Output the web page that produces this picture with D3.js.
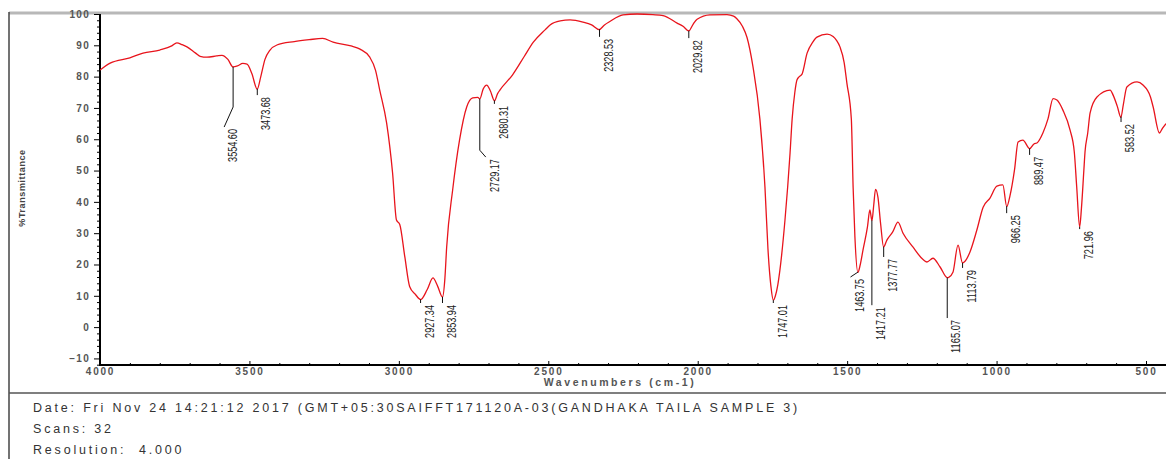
<!DOCTYPE html>
<html>
<head>
<meta charset="utf-8">
<script src="https://cdn.jsdelivr.net/npm/d3@7"></script>
<style>
    body { margin: 0; background: #ffffff; }
    svg { display: block; font-family: "Liberation Sans", Arial, sans-serif; }
</style>
</head>
<body>
<div id="vis"></div>
<script>
// spectrum: wavenumber (cm-1) and %T
const WAVENUMBERS = [4000, 3966, 3900, 3856, 3800, 3760, 3743, 3725, 3709, 3680, 3665, 3642, 3610, 3592, 3572,
    3555, 3540, 3522, 3508, 3492, 3474, 3462, 3448, 3431, 3408, 3350, 3300, 3255, 3220, 3160, 3130, 3098, 3078,
    3064, 3041, 3021, 3008, 2997, 2980, 2964, 2945, 2927, 2905, 2886, 2870, 2854, 2846, 2840, 2820, 2797, 2773,
    2753, 2736, 2729, 2718, 2706, 2694, 2680, 2670, 2662, 2620, 2580, 2550, 2510, 2494, 2460, 2427, 2384, 2355,
    2330, 2312, 2294, 2250, 2203, 2150, 2116, 2069, 2048, 2030, 2015, 2002, 1959, 1902, 1880, 1869, 1850, 1835,
    1815, 1792, 1775, 1765, 1755, 1747, 1740, 1732, 1725, 1708, 1691, 1684, 1675, 1668, 1660, 1651, 1634, 1615,
    1601, 1567, 1547, 1535, 1524, 1510, 1501, 1486, 1480, 1474, 1464, 1456, 1447, 1432, 1424, 1417, 1411, 1405,
    1397, 1388, 1378, 1367, 1347, 1330, 1313, 1280, 1245, 1233, 1213, 1189, 1165, 1160, 1146, 1129, 1114, 1100,
    1089, 1066, 1045, 1022, 999, 979, 966, 955, 940, 928, 912, 889, 875, 865, 845, 828, 811, 798, 778, 754, 740,
    732, 722, 716, 708, 704, 695, 687, 664, 620, 610, 596, 584, 576, 564, 530, 510, 485, 476, 455, 445, 433];
const TRANSMITTANCE = [82.1, 84.3, 86.0, 87.5, 88.5, 89.8, 90.8, 90.2, 89.5, 87.5, 86.5, 86.2, 86.6, 86.8, 85.5,
    83.1, 83.4, 84.2, 84.0, 81.0, 76.0, 80.0, 85.5, 88.5, 90.1, 91.2, 91.8, 92.2, 91.0, 89.8, 88.8, 86.3, 82.0,
    75.7, 65.2, 49.2, 34.2, 32.8, 22.4, 13.0, 10.5, 8.8, 12.0, 15.7, 13.0, 9.6, 15.5, 25.6, 43.8, 59.7, 70.3,
    73.2, 73.4, 72.9, 76.0, 77.3, 75.5, 72.3, 74.5, 75.7, 80.5, 86.5, 91.0, 95.0, 96.5, 97.8, 98.1, 97.4, 96.5,
    95.0, 96.5, 97.6, 99.7, 100.0, 99.8, 99.5, 97.1, 96.0, 94.6, 96.8, 98.3, 99.7, 99.8, 99.3, 98.5, 96.0, 92.5,
    83.1, 66.5, 44.7, 25.0, 13.0, 8.6, 10.0, 13.5, 18.2, 34.2, 55.6, 66.5, 75.0, 78.9, 80.0, 80.8, 87.5, 91.0,
    92.6, 93.6, 92.8, 91.5, 89.5, 84.5, 78.0, 66.5, 44.7, 28.8, 17.5, 20.0, 24.6, 32.0, 37.4, 34.0, 39.0, 44.0,
    41.5, 33.0, 25.6, 27.8, 30.5, 33.5, 30.0, 25.6, 21.5, 20.8, 22.0, 19.2, 15.8, 15.9, 17.5, 26.2, 20.5, 21.8,
    24.0, 31.0, 38.3, 41.2, 45.0, 45.4, 38.5, 42.0, 50.2, 59.1, 59.7, 57.0, 58.5, 58.8, 62.0, 66.5, 73.0, 72.5,
    69.3, 62.9, 56.0, 45.0, 32.0, 38.0, 50.0, 56.0, 62.0, 68.4, 73.5, 75.7, 74.1, 70.5, 67.0, 71.0, 76.7, 78.3,
    77.3, 73.5, 70.3, 62.0, 63.5, 65.0];

// peak picks: label, where the marker line stops (%T), optional knee (%T) and shift of the line end (cm-1)
const PEAK_LABELS = ["3554.60", "3473.68", "2927.34", "2853.94", "2729.17", "2680.31", "2328.53", "2029.82",
    "1747.01", "1463.75", "1417.21", "1377.77", "1165.07", "1113.79", "966.25", "889.47", "721.96", "583.52"];
const PEAK_END = [63.9, 74.1, 7.7, 7.7, 54.3, 71.3, 92.7, 92.3, 7.7, 16.0, 7.0, 22.4, 2.9, 18.9, 36.4, 55.0, 31.3, 65.5];
const PEAK_KNEE = [70.3, null, null, null, 56.5, null, null, null, null, null, null, null, null, null, null, null, null, null];
const PEAK_SHIFT = [30, 0, 0, 0, -20, 0, 0, 0, 0, 25, 0, 0, 0, 0, 0, 0, 0, 0];

const X_TICKS = [4000, 3500, 3000, 2500, 2000, 1500, 1000, 500];
const Y_TICKS = [-10, 0, 10, 20, 30, 40, 50, 60, 70, 80, 90, 100];

const X_TITLE = "Wavenumbers (cm-1)";
const Y_TITLE = "%Transmittance";
const FOOTER = ["Date: Fri Nov 24 14:21:12 2017 (GMT+05:30SAIFFT171120A-03(GANDHAKA TAILA SAMPLE 3)",
    "Scans: 32",
    "Resolution:  4.000"];

// Constants
const FRAME_WIDTH = 1166;
const FRAME_HEIGHT = 459;
const PLOT = { left: 100, right: 1166, top: 14, bottom: 365 };

const FRAME = d3.select("#vis")
    .append("svg")
    .attr("width", FRAME_WIDTH)
    .attr("height", FRAME_HEIGHT);

const X_SCALE = d3.scaleLinear()
    .domain([4000, 500])
    .range([PLOT.left, 1146]);

const Y_SCALE = d3.scaleLinear()
    .domain([-12.1, 100])
    .range([PLOT.bottom, PLOT.top]);

// outer frame lines
FRAME.append("line")
    .attr("x1", 9).attr("x2", FRAME_WIDTH)
    .attr("y1", 13).attr("y2", 13)
    .attr("stroke", "#b8b8b8").attr("stroke-width", 3);
FRAME.append("line")
    .attr("x1", 9).attr("x2", 9)
    .attr("y1", 12).attr("y2", FRAME_HEIGHT)
    .attr("stroke", "#444").attr("stroke-width", 1.5);
FRAME.append("line")
    .attr("x1", 9).attr("x2", FRAME_WIDTH)
    .attr("y1", 393).attr("y2", 393)
    .attr("stroke", "#555").attr("stroke-width", 1.5);

// y axis, minor ticks first
FRAME.append("g")
    .attr("transform", "translate(" + PLOT.left + ",0)")
    .call(d3.axisLeft(Y_SCALE)
        .tickValues(d3.range(-12, 101, 2).filter((d) => { return d % 10 != 0; }))
        .tickSize(3).tickFormat(""))
    .call((g) => { g.select(".domain").remove(); });

const Y_AXIS = FRAME.append("g")
    .attr("transform", "translate(" + PLOT.left + ",0)")
    .call(d3.axisLeft(Y_SCALE).tickValues(Y_TICKS).tickSize(6).tickPadding(4));
Y_AXIS.select(".domain").remove();
Y_AXIS.selectAll("text")
    .attr("font-size", "10px").attr("font-weight", "bold")
    .attr("letter-spacing", "1.3px").attr("fill", "#555");

// x axis
FRAME.append("g")
    .attr("transform", "translate(0," + PLOT.bottom + ")")
    .call(d3.axisBottom(X_SCALE)
        .tickValues(d3.range(4000, 400, -100).filter((d) => { return d % 500 != 0; }))
        .tickSize(-2).tickFormat(""))
    .call((g) => { g.select(".domain").remove(); });

const X_AXIS = FRAME.append("g")
    .attr("transform", "translate(0," + PLOT.bottom + ")")
    .call(d3.axisBottom(X_SCALE).tickValues(X_TICKS).tickFormat(d3.format("d"))
        .tickSize(-4).tickPadding(3));
X_AXIS.select(".domain").remove();
X_AXIS.selectAll("text")
    .attr("font-size", "10px").attr("font-weight", "bold")
    .attr("letter-spacing", "1.8px").attr("fill", "#555");

// axis lines
FRAME.append("line")
    .attr("x1", PLOT.left).attr("x2", PLOT.left)
    .attr("y1", PLOT.top).attr("y2", PLOT.bottom + 1)
    .attr("stroke", "#000").attr("stroke-width", 2);
FRAME.append("line")
    .attr("x1", PLOT.left - 1).attr("x2", PLOT.right)
    .attr("y1", PLOT.bottom).attr("y2", PLOT.bottom)
    .attr("stroke", "#000").attr("stroke-width", 2);

// axis titles
FRAME.append("text")
    .attr("x", 620).attr("y", 386)
    .attr("text-anchor", "middle")
    .attr("font-size", "10.5px").attr("font-weight", "bold")
    .attr("letter-spacing", "2.6px").attr("fill", "#555")
    .text(X_TITLE);
FRAME.append("text")
    .attr("transform", "translate(25,188) rotate(-90)")
    .attr("text-anchor", "middle")
    .attr("font-size", "9px").attr("font-weight", "bold")
    .attr("letter-spacing", "0.6px").attr("fill", "#444")
    .text(Y_TITLE);

// spectrum
const spectrum = WAVENUMBERS.map((d, i) => { return { wn: d, t: TRANSMITTANCE[i] }; });

FRAME.append("clipPath").attr("id", "plot-clip")
    .append("rect")
    .attr("x", PLOT.left).attr("y", PLOT.top - 2)
    .attr("width", PLOT.right - PLOT.left).attr("height", PLOT.bottom - PLOT.top + 2);

FRAME.append("path")
    .datum(spectrum)
    .attr("clip-path", "url(#plot-clip)")
    .attr("fill", "none")
    .attr("stroke", "#e8141c")
    .attr("stroke-width", 1.3)
    .attr("d", d3.line()
        .x((d) => { return X_SCALE(d.wn); })
        .y((d) => { return Y_SCALE(d.t); })
        .curve(d3.curveMonotoneX));

// %T on the curve at a wavenumber
function curveAt(wn) {
    const i = d3.bisector((d) => { return -d.wn; }).left(spectrum, -wn);
    if (i <= 0) return spectrum[0].t;
    const a = spectrum[i - 1], b = spectrum[i];
    return a.t + (b.t - a.t) * (a.wn - wn) / (a.wn - b.wn);
}

// peak markers and labels
const peaks = PEAK_LABELS.map((d, i) => {
    return { label: d, wn: +d, end: PEAK_END[i], knee: PEAK_KNEE[i], shift: PEAK_SHIFT[i] };
});

FRAME.selectAll(".peak-line")
    .data(peaks)
    .enter()
    .append("path")
    .attr("class", "peak-line")
    .attr("fill", "none")
    .attr("stroke", "#111")
    .attr("stroke-width", 1)
    .attr("d", (d) => {
        const x = X_SCALE(d.wn);
        let p = "M" + x + "," + Y_SCALE(curveAt(d.wn));
        if (d.knee != null) p += "L" + x + "," + Y_SCALE(d.knee);
        return p + "L" + X_SCALE(d.wn + d.shift) + "," + Y_SCALE(d.end);
    });

FRAME.selectAll(".peak-label")
    .data(peaks)
    .enter()
    .append("text")
    .attr("class", "peak-label")
    .attr("transform", (d) => {
        return "translate(" + (X_SCALE(d.wn + d.shift) + 9) + "," + (Y_SCALE(d.end) + 2) + ") rotate(-90)";
    })
    .attr("dy", "0.35em")
    .attr("text-anchor", "end")
    .attr("font-size", "12px")
    .attr("fill", "#222")
    .attr("textLength", (d) => { return d.label.length * 4.7; })
    .attr("lengthAdjust", "spacingAndGlyphs")
    .text((d) => { return d.label; });

// footer
FRAME.selectAll(".footer")
    .data(FOOTER)
    .enter()
    .append("text")
    .attr("class", "footer")
    .attr("x", 33)
    .attr("y", (d, i) => { return 412 + i * 21; })
    .attr("font-size", "12.5px")
    .attr("letter-spacing", "2.8px")
    .attr("fill", "#333")
    .style("white-space", "pre")
    .text((d) => { return d; });
</script>
</body>
</html>
